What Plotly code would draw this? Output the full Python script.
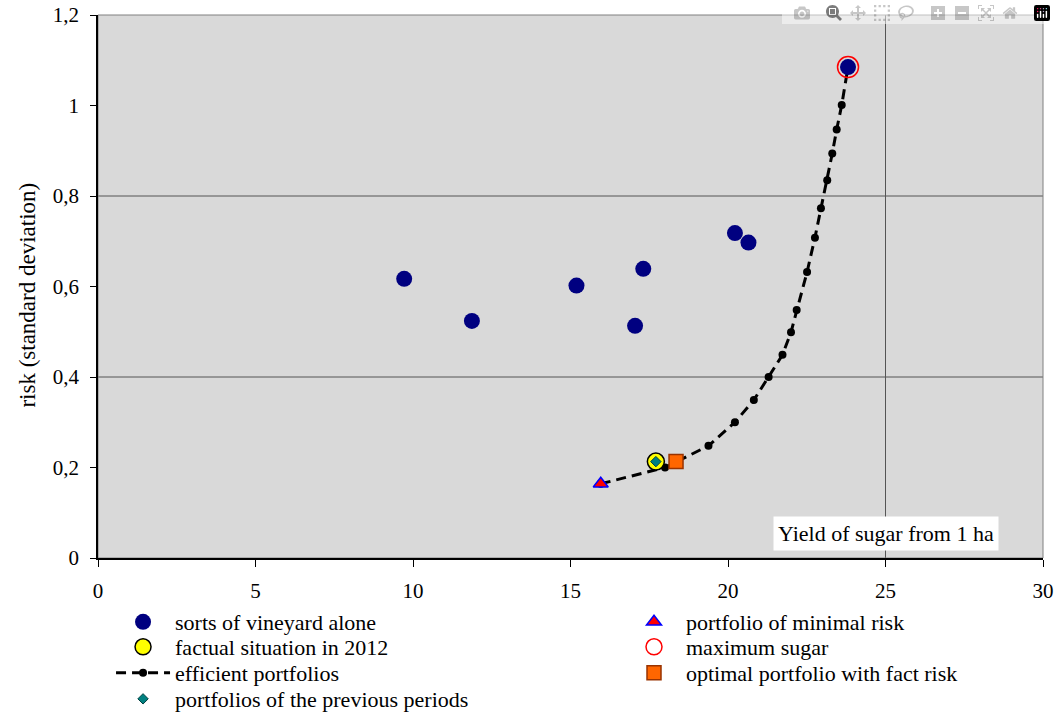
import plotly.graph_objects as go

# ---- data ----
sorts_x = [9.72, 11.87, 15.19, 17.31, 17.05, 20.22, 20.65, 23.81]
sorts_y = [0.617, 0.524, 0.602, 0.639, 0.513, 0.718, 0.697, 1.085]

eff_x = [15.96, 18.0, 19.38, 20.22, 20.82, 21.29, 21.73, 22.0, 22.18, 22.51,
         22.76, 22.95, 23.15, 23.31, 23.45, 23.61, 23.81]
eff_y = [0.164, 0.200, 0.248, 0.300, 0.349, 0.400, 0.449, 0.499, 0.548, 0.632,
         0.708, 0.773, 0.835, 0.894, 0.947, 1.001, 1.085]

fact_x = [17.71]
fact_y = [0.213]
prev_x = [17.71]
prev_y = [0.213]
minrisk_x = [15.96]
minrisk_y = [0.164]
maxsugar_x = [23.81]
maxsugar_y = [1.085]
optimal_x = [18.35]
optimal_y = [0.213]

FONT = "'Liberation Serif', 'Times New Roman', serif"

fig = go.Figure()

fig.add_trace(go.Scatter(
    x=eff_x, y=eff_y, mode="lines+markers", name="efficient portfolios",
    line=dict(color="black", width=3, dash="10px,6px"),
    marker=dict(color="black", size=8, symbol="circle"),
    legend="legend3"))

fig.add_trace(go.Scatter(
    x=sorts_x, y=sorts_y, mode="markers", name="sorts of vineyard alone",
    marker=dict(color="#000080", size=16, symbol="circle", line=dict(width=0)),
    legend="legend"))

fig.add_trace(go.Scatter(
    x=maxsugar_x, y=maxsugar_y, mode="markers", name="maximum sugar",
    marker=dict(color="#FF0000", size=21, symbol="circle-open",
                line=dict(color="#FF0000", width=1.5)),
    legend="legend6"))

fig.add_trace(go.Scatter(
    x=fact_x, y=fact_y, mode="markers", name="factual situation in 2012",
    marker=dict(color="#FFFF00", size=17, symbol="circle",
                line=dict(color="black", width=1.5)),
    legend="legend2"))

fig.add_trace(go.Scatter(
    x=prev_x, y=prev_y, mode="markers", name="portfolios of the previous periods",
    marker=dict(color="#008080", size=8, symbol="diamond",
                line=dict(color="#004040", width=1)),
    legend="legend4"))

fig.add_trace(go.Scatter(
    x=minrisk_x, y=minrisk_y, mode="markers", name="portfolio of minimal risk",
    marker=dict(color="#FF0000", size=13, symbol="triangle-up",
                line=dict(color="#0000FF", width=1.5)),
    legend="legend5"))

fig.add_trace(go.Scatter(
    x=optimal_x, y=optimal_y, mode="markers", name="optimal portfolio with fact risk",
    marker=dict(color="#FF6600", size=14, symbol="square",
                line=dict(color="#993300", width=1.5)),
    legend="legend7"))

# gridlines (only at major units like the original)
shapes = []
for yv in [0.4, 0.8]:
    shapes.append(dict(type="line", xref="paper", x0=0, x1=1, yref="y", y0=yv, y1=yv,
                       line=dict(color="#555555", width=1), layer="below"))
shapes.append(dict(type="line", xref="x", x0=25, x1=25, yref="paper", y0=0, y1=1,
                   line=dict(color="#555555", width=1), layer="below"))
# plot-area border
shapes.append(dict(type="rect", xref="paper", yref="paper", x0=0, x1=1, y0=0, y1=1,
                   line=dict(color="#808080", width=1), layer="below"))

leg_common = dict(orientation="v", bgcolor="rgba(0,0,0,0)",
                  font=dict(family=FONT, size=22, color="black"),
                  itemwidth=54, tracegroupgap=0,
                  xref="paper", yref="container",
                  xanchor="left", yanchor="middle")

col1_x, col2_x = 0.0138, 0.5545
row_y = [0.1313, 0.0964, 0.0601, 0.0237]

fig.update_layout(
    width=1056, height=716,
    margin=dict(l=98, r=13, t=15, b=158),
    paper_bgcolor="white",
    plot_bgcolor="#D9D9D9",
    separators=", ",
    showlegend=True,
    font=dict(family=FONT, size=21, color="black"),
    xaxis=dict(range=[0, 30], dtick=5, tick0=0, showgrid=False, zeroline=False,
               showline=True, linecolor="black", linewidth=1.5,
               ticks="outside", ticklen=7, tickcolor="black", automargin=False,
               ticklabelstandoff=6, ticklabeloverflow="allow",
               tickfont=dict(family=FONT, size=21)),
    yaxis=dict(range=[0, 1.2], dtick=0.2, tick0=0, showgrid=False, zeroline=False,
               showline=True, linecolor="black", linewidth=1.5,
               ticks="outside", ticklen=6, tickcolor="black", automargin=False,
               ticklabelstandoff=7, ticklabeloverflow="allow",
               tickfont=dict(family=FONT, size=21)),
    shapes=shapes,
    legend=dict(x=col1_x, y=row_y[0], **leg_common),
    legend2=dict(x=col1_x, y=row_y[1], **leg_common),
    legend3=dict(x=col1_x, y=row_y[2], **leg_common),
    legend4=dict(x=col1_x, y=row_y[3], **leg_common),
    legend5=dict(x=col2_x, y=row_y[0], **leg_common),
    legend6=dict(x=col2_x, y=row_y[1], **leg_common),
    legend7=dict(x=col2_x, y=row_y[2], **leg_common),
    annotations=[
        dict(text="Yield of sugar from 1 ha", xref="paper", yref="paper",
             x=0.8339, y=0.0442, xanchor="center", yanchor="middle",
             showarrow=False, bgcolor="white",
             borderpad=4, font=dict(family=FONT, size=22, color="black")),
        dict(text="risk (standard deviation)", xref="paper", yref="paper",
             x=-0.0741, y=0.485, xanchor="center", yanchor="middle",
             textangle=-90, showarrow=False,
             font=dict(family=FONT, size=23, color="black")),
    ],
)

fig.write_html("out.html",
               post_script="document.body.style.margin='0px';"
                           "document.body.style.overflow='hidden';")
